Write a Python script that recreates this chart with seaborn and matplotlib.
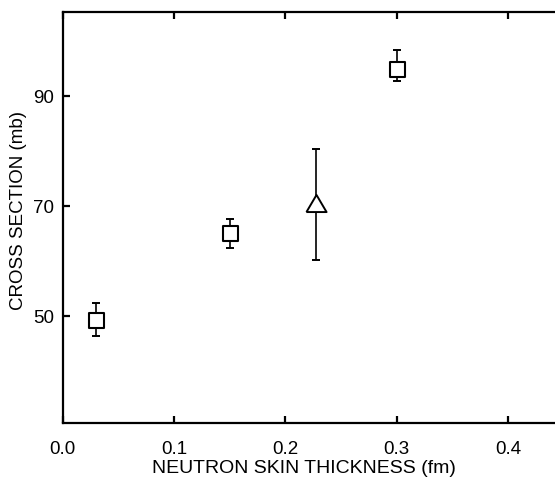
import matplotlib
matplotlib.use("Agg")
import matplotlib.pyplot as plt
import seaborn as sns
import numpy as np
import pandas as pd

# data
thickness = [0.03, 0.15, 0.30, 0.228]
cross_section = [49.2, 65.0, 94.8, 70.5]
err_low = [2.8, 2.6, 2.1, 10.4]
err_high = [3.2, 2.6, 3.6, 9.8]
kind = ["square", "square", "square", "triangle"]

x_ticks = [0.0, 0.1, 0.2, 0.3, 0.4]
x_tick_labels = ["0.0", "0.1", "0.2", "0.3", "0.4"]
y_ticks = [50, 70, 90]

df = pd.DataFrame({"x": thickness, "y": cross_section, "kind": kind})

sns.set_theme(style="ticks")
plt.rcParams["font.family"] = ["Liberation Sans", "DejaVu Sans"]
plt.rcParams["text.color"] = "black"
plt.rcParams["axes.labelcolor"] = "black"

fig = plt.figure(figsize=(5.55, 4.81), dpi=100)
W, H = 555, 481
left_px, bottom_px, top_px = 62.7, 424.3, 12.7
px_per_unit = 1113.0
xmax = 0.5
ax_w_px = xmax * px_per_unit
ax_h_px = bottom_px - top_px
ax = fig.add_axes([left_px / W, (H - bottom_px) / H, ax_w_px / W, ax_h_px / H])

ax.errorbar(df["x"], df["y"], yerr=[err_low, err_high], fmt="none",
            ecolor="black", elinewidth=1.2, capsize=3.2, capthick=1.4, zorder=2)

tri = [(-1, -0.85), (1, -0.85), (0, 0.85), (-1, -0.85)]
sq = df[df["kind"] == "square"]
tr = df[df["kind"] == "triangle"]
sns.scatterplot(data=sq, x="x", y="y", marker="s", s=10.8 ** 2,
                facecolor="white", edgecolor="black", linewidth=1.5, ax=ax, zorder=3)
sns.scatterplot(data=tr, x="x", y="y", marker=tri, s=14.5 ** 2,
                facecolor="white", edgecolor="black", linewidth=1.4, ax=ax, zorder=3)

ax.set_xlim(0, xmax)
ax.set_ylim(30.5, 105.3)
ax.set_xticks(x_ticks)
ax.set_xticklabels(x_tick_labels)
ax.set_yticks(y_ticks)

for s in ax.spines.values():
    s.set_linewidth(1.6)
    s.set_color("black")

ax.tick_params(axis="both", direction="in", length=5, width=1.6, colors="black",
               labelcolor="black", labelsize=13.5, top=True, right=False)
ax.tick_params(axis="x", pad=12)
ax.tick_params(axis="y", pad=6)
ax.set_xlabel("NEUTRON SKIN THICKNESS (fm)", fontsize=14)
ax.set_ylabel("CROSS SECTION (mb)", fontsize=13.5)
ax.xaxis.set_label_coords((304 - left_px) / ax_w_px, -(460 - bottom_px) / ax_h_px)
ax.yaxis.set_label_coords(-(left_px - 27) / ax_w_px, (bottom_px - 211) / ax_h_px)

fig.savefig("out.png", dpi=100)
